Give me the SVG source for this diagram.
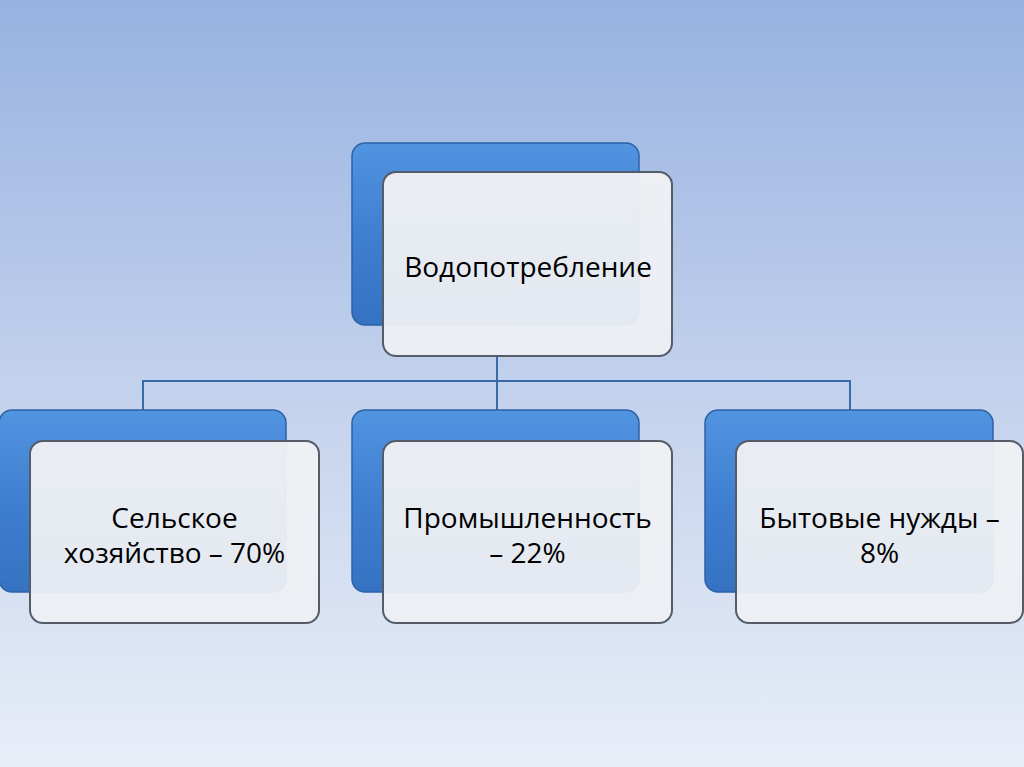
<svg xmlns="http://www.w3.org/2000/svg" width="1024" height="767" viewBox="0 0 1024 767">
<defs>
<linearGradient id="bg" x1="0" y1="0" x2="0" y2="1">
<stop offset="0" stop-color="#97b2e1"/>
<stop offset="0.5" stop-color="#c2d1ec"/>
<stop offset="1" stop-color="#e8eef8"/>
</linearGradient>
<linearGradient id="blue" x1="0" y1="0" x2="0" y2="1">
<stop offset="0" stop-color="#5194e0"/>
<stop offset="0.5" stop-color="#3f7fd0"/>
<stop offset="1" stop-color="#3572c2"/>
</linearGradient>
<linearGradient id="white" x1="0" y1="0" x2="0" y2="1">
<stop offset="0" stop-color="#f0f1f4" stop-opacity="0.96"/>
<stop offset="1" stop-color="#eef0f4" stop-opacity="0.94"/>
</linearGradient>
</defs>
<style>
.b{fill:url(#blue);stroke:#2c62a8;stroke-width:1.5}
.w{fill:url(#white);stroke:#555c68;stroke-width:2}
.t{font-family:"Open Sans","Liberation Sans",sans-serif;font-size:28px;fill:#000;text-anchor:middle}
.c{fill:none;stroke:#3a6aa8;stroke-width:2}
</style>
<rect width="1024" height="767" fill="url(#bg)"/>
<g id="connectors">
<path class="c" d="M497 355V410M143 410V381H850V410"/>
</g>
<g id="n-top">
<rect class="b" x="352" y="143" width="287" height="182" rx="13"/>
<rect class="w" x="383" y="172" width="289" height="184" rx="13"/>
<text class="t" x="528" y="277">Водопотребление</text>
</g>
<g id="n-agri">
<rect class="b" x="-1" y="410" width="287" height="182" rx="13"/>
<rect class="w" x="30" y="441" width="289" height="182" rx="13"/>
<text class="t" x="174.5" y="528">Сельское</text>
<text class="t" x="174.5" y="563">хозяйство – 70%</text>
</g>
<g id="n-ind">
<rect class="b" x="352" y="410" width="287" height="182" rx="13"/>
<rect class="w" x="383" y="441" width="289" height="182" rx="13"/>
<text class="t" x="527.5" y="528">Промышленность</text>
<text class="t" x="527.5" y="563">– 22%</text>
</g>
<g id="n-home">
<rect class="b" x="705" y="410" width="288" height="182" rx="13"/>
<rect class="w" x="736" y="441" width="287" height="182" rx="13"/>
<text class="t" x="879.5" y="528">Бытовые нужды –</text>
<text class="t" x="879.5" y="563">8%</text>
</g>
</svg>
